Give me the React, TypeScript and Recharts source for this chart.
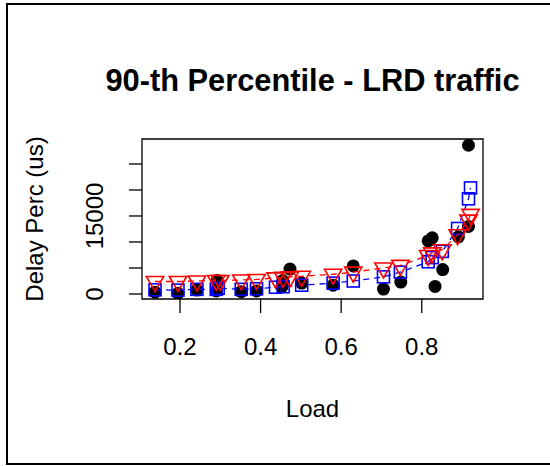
import React from 'react'
import { ScatterChart, Scatter, XAxis, YAxis, ReferenceArea } from 'recharts'

// black filled circles
const circleLoad = [0.138, 0.195, 0.242, 0.290, 0.292, 0.352, 0.390, 0.453, 0.455, 0.473, 0.502, 0.580, 0.630, 0.705, 0.748, 0.816, 0.826, 0.833, 0.852, 0.891, 0.916, 0.916]
const circleDelay = [350, 150, 750, 600, 2600, 450, 600, 1400, 2600, 4800, 2100, 1700, 5400, 950, 2300, 10200, 10800, 1450, 4700, 11000, 13000, 28600]

// blue open squares, dashed
const squareLoad = [0.138, 0.195, 0.242, 0.290, 0.295, 0.352, 0.390, 0.437, 0.456, 0.502, 0.580, 0.630, 0.705, 0.747, 0.816, 0.826, 0.851, 0.889, 0.916, 0.921]
const squareDelay = [800, 750, 900, 900, 1100, 900, 1000, 1300, 1400, 1700, 2100, 2500, 3300, 4200, 6200, 7000, 8200, 12600, 18300, 20400]

// red open down-triangles, dashed
const triangleLoad = [0.138, 0.195, 0.242, 0.290, 0.300, 0.352, 0.390, 0.437, 0.456, 0.473, 0.502, 0.580, 0.630, 0.705, 0.747, 0.816, 0.826, 0.851, 0.889, 0.916, 0.921]
const triangleDelay = [2400, 2400, 2500, 2600, 2600, 2700, 2800, 3100, 3200, 3300, 3400, 3800, 4200, 5000, 5500, 7400, 7900, 8500, 11400, 14200, 15300]

const xTicks = [0.2, 0.4, 0.6, 0.8]
const yTicks = [0, 5000, 10000, 15000, 20000, 25000]
const yTickLabels = ['0', '', '', '15000', '', '']

const xDomain: [number, number] = [0.1057, 0.952]
const yDomain: [number, number] = [-960, 29800]

const W = 550
const H = 466
const PLOT = { left: 142, right: 483, top: 139, bottom: 299 }
const FONT = '"Liberation Sans", Arial, Helvetica, sans-serif'

const toPoints = (xs: number[], ys: number[]) => xs.map((load, i) => ({ load, delay: ys[i] }))
const circles = toPoints(circleLoad, circleDelay)
const squares = toPoints(squareLoad, squareDelay)
const triangles = toPoints(triangleLoad, triangleDelay)

const Dot = (p: any) => <circle cx={p.cx} cy={p.cy} r={6.5} fill="#000" />
const Square = (p: any) => (
  <rect x={p.cx - 6} y={p.cy - 6} width={12} height={12} fill="none" stroke="#0000ff" strokeWidth={1.6} />
)
const Triangle = (p: any) => {
  const r = 10
  const xc = r * 0.866
  const pts = `${p.cx},${p.cy + r} ${p.cx + xc},${p.cy - r / 2} ${p.cx - xc},${p.cy - r / 2}`
  return <polygon points={pts} fill="none" stroke="#ff0000" strokeWidth={1.6} />
}

const XTick = (p: any) => (
  <text x={p.x} y={p.y + 42} textAnchor="middle" fontFamily={FONT} fontSize={24} fill="#000">
    {p.payload.value}
  </text>
)
const YTick = (p: any) => {
  const label = yTickLabels[yTicks.indexOf(p.payload.value)]
  const x = p.x - 26
  return (
    <text x={x} y={p.y} transform={`rotate(-90, ${x}, ${p.y})`} textAnchor="middle" fontFamily={FONT} fontSize={24} fill="#000">
      {label}
    </text>
  )
}

export default function App() {
  const cx = (PLOT.left + PLOT.right) / 2
  const cy = (PLOT.top + PLOT.bottom) / 2
  return (
    <div style={{ position: 'absolute', left: 0, top: 0, width: W, height: H, overflow: 'hidden', background: '#fff' }}>
      <div style={{ position: 'absolute', left: 6, top: 3, width: 600, height: 462, boxSizing: 'border-box', border: '2px solid #000' }} />
      <div style={{ position: 'absolute', left: 0, top: 0 }}>
        <ScatterChart
          width={W}
          height={H}
          margin={{ top: PLOT.top, right: W - PLOT.right, left: PLOT.left - 60, bottom: H - PLOT.bottom - 60 }}
        >
          <XAxis
            type="number"
            dataKey="load"
            domain={xDomain}
            allowDataOverflow
            ticks={xTicks}
            interval={0}
            height={60}
            axisLine={false}
            tickLine={{ stroke: '#000', strokeWidth: 1.3 }}
            tickSize={14}
            tickMargin={0}
            tick={<XTick />}
          />
          <YAxis
            type="number"
            dataKey="delay"
            domain={yDomain}
            allowDataOverflow
            ticks={yTicks}
            interval={0}
            width={60}
            axisLine={false}
            tickLine={{ stroke: '#000', strokeWidth: 1.3 }}
            tickSize={13}
            tickMargin={0}
            tick={<YTick />}
          />
          <ReferenceArea x1={xDomain[0]} x2={xDomain[1]} y1={yDomain[0]} y2={yDomain[1]} fill="none" stroke="#000" strokeWidth={1.3} fillOpacity={0} />
          <Scatter data={circles} shape={<Dot />} isAnimationActive={false} />
          <Scatter
            data={squares}
            shape={<Square />}
            line={{ stroke: '#0000ff', strokeWidth: 1.3, strokeDasharray: '6 5' }}
            isAnimationActive={false}
          />
          <Scatter
            data={triangles}
            shape={<Triangle />}
            line={{ stroke: '#ff0000', strokeWidth: 1.3, strokeDasharray: '6 5' }}
            isAnimationActive={false}
          />
        </ScatterChart>
      </div>
      <svg width={W} height={H} style={{ position: 'absolute', left: 0, top: 0, pointerEvents: 'none' }}>
        <text x={cx} y={91} textAnchor="middle" fontFamily={FONT} fontWeight="bold" fontSize={30.8} fill="#000">
          90-th Percentile - LRD traffic
        </text>
        <text x={cx} y={417} textAnchor="middle" fontFamily={FONT} fontSize={24} fill="#000">
          Load
        </text>
        <text x={42.5} y={cy} transform={`rotate(-90, 42.5, ${cy})`} textAnchor="middle" fontFamily={FONT} fontSize={24} fill="#000">
          Delay Perc (us)
        </text>
      </svg>
    </div>
  )
}
